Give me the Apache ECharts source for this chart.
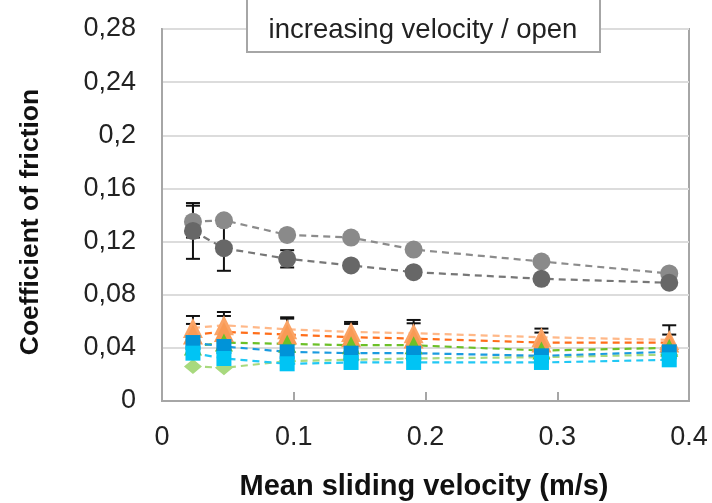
<!DOCTYPE html>
<html>
<head>
<meta charset="utf-8">
<script src="https://cdn.jsdelivr.net/npm/echarts@6/dist/echarts.min.js"></script>
<style>html,body{margin:0;padding:0;background:#fff}#c{width:712px;height:503px}</style>
</head>
<body>
<div id="c"></div>
<script>
// ---- data ----
const velocity = [0.0235, 0.047, 0.095, 0.1435, 0.191, 0.288, 0.385];
const grayLight = [0.135, 0.136, 0.125, 0.123, 0.114, 0.105, 0.096];
const grayDark = [0.128, 0.115, 0.107, 0.102, 0.097, 0.092, 0.089];
const orangeLight = [0.055, 0.057, 0.054, 0.052, 0.051, 0.048, 0.046];
const orangeDark = [0.050, 0.052, 0.050, 0.048, 0.047, 0.044, 0.044];
const greenTri = [0.041, 0.044, 0.043, 0.042, 0.042, 0.038, 0.040];
const greenDiamond = [0.026, 0.025, 0.030, 0.031, 0.032, 0.033, 0.035];
const blueSq = [0.044, 0.041, 0.037, 0.036, 0.036, 0.034, 0.037];
const cyanSq = [0.036, 0.032, 0.028, 0.029, 0.029, 0.029, 0.031];

const grayLightErr = [0.012, 0, 0, 0, 0, 0, 0];
const grayDarkErr = [0.021, 0.017, 0.0065, 0.002, 0, 0, 0];
const orangeLightErr = [0.009, 0.010, 0.009, 0.0075, 0.010, 0.0065, 0.011];
const orangeDarkErr = [0.008, 0.012, 0.012, 0.010, 0.0115, 0.0075, 0.006];

const yTicks = [0, 0.04, 0.08, 0.12, 0.16, 0.2, 0.24, 0.28];
const xTicks = [0, 0.1, 0.2, 0.3, 0.4];
const titleText = 'increasing velocity / open';
const xTitle = 'Mean sliding velocity (m/s)';
const yTitle = 'Coefficient of friction';

// ---- build ----
function pts(ys) { return velocity.map((x, i) => [x, ys[i]]); }
const errData = [];
[[grayLight, grayLightErr], [grayDark, grayDarkErr], [orangeLight, orangeLightErr], [orangeDark, orangeDarkErr]].forEach(([v, e]) => {
  v.forEach((y, i) => { if (e[i] > 0) errData.push([velocity[i], y - e[i], y + e[i]]); });
});

function lineSeries(name, ys, color, lineColor, symbol, size, z) {
  return {
    name, type: 'line', data: pts(ys), symbol, symbolSize: size, z,
    itemStyle: { color, opacity: 1 },
    lineStyle: { color: lineColor, width: 2.2, type: [7, 5] },
    emphasis: { disabled: true }, animation: false
  };
}

const axisGray = '#a6a6a6';
const chart = echarts.init(document.getElementById('c'));
chart.setOption({
  animation: false,
  grid: { left: 162, right: 23, top: 29, bottom: 102, show: true, borderColor: axisGray, borderWidth: 2, backgroundColor: 'transparent' },
  xAxis: {
    type: 'value', min: 0, max: 0.4, interval: 0.1,
    axisLine: { show: true, lineStyle: { color: axisGray, width: 2 } },
    axisTick: { show: true, inside: true, length: 9, lineStyle: { color: axisGray, width: 2 } },
    splitLine: { show: false },
    axisLabel: { margin: 23, fontFamily: 'Liberation Sans', fontSize: 27, color: '#222',
      formatter: v => xTicks.includes(Math.round(v * 10) / 10) ? String(Math.round(v * 10) / 10) : '' }
  },
  yAxis: {
    type: 'value', min: 0, max: 0.28, interval: 0.04,
    axisLine: { show: true, lineStyle: { color: axisGray, width: 2 } },
    axisTick: { show: false },
    splitLine: { show: true, lineStyle: { color: '#dcdcdc', width: 2 } },
    axisLabel: { margin: 26, fontFamily: 'Liberation Sans', fontSize: 27, color: '#222',
      formatter: v => {
        const t = yTicks.find(k => Math.abs(k - v) < 1e-9);
        return t === undefined ? '' : String(Math.round(t * 100) / 100).replace('.', ',');
      } }
  },
  graphic: [
    { type: 'rect', shape: { x: 247, y: -4, width: 353, height: 56 }, style: { fill: '#fff', stroke: axisGray, lineWidth: 2 }, z: 100 },
    { type: 'text', x: 423, y: 30, style: { text: titleText, fontFamily: 'Liberation Sans', fontSize: 27.5, fill: '#222', align: 'center', verticalAlign: 'middle' }, z: 101 },
    { type: 'text', x: 424, y: 487, style: { text: xTitle, fontFamily: 'Liberation Sans', fontWeight: 'bold', fontSize: 29, fill: '#111', align: 'center', verticalAlign: 'middle' }, z: 101 },
    { type: 'text', x: 31, y: 222, rotation: Math.PI / 2, style: { text: yTitle, fontFamily: 'Liberation Sans', fontWeight: 'bold', fontSize: 26.5, fill: '#111', align: 'center', verticalAlign: 'middle' }, z: 101 }
  ],
  series: [
    {
      type: 'custom', z: 1, data: errData, animation: false,
      renderItem: (params, api) => {
        const x = api.value(0);
        const lo = api.coord([x, api.value(1)]);
        const hi = api.coord([x, api.value(2)]);
        const w = 7;
        const st = { stroke: '#111', lineWidth: 2 };
        return { type: 'group', children: [
          { type: 'line', shape: { x1: lo[0], y1: lo[1], x2: hi[0], y2: hi[1] }, style: st },
          { type: 'line', shape: { x1: lo[0] - w, y1: lo[1], x2: lo[0] + w, y2: lo[1] }, style: st },
          { type: 'line', shape: { x1: hi[0] - w, y1: hi[1], x2: hi[0] + w, y2: hi[1] }, style: st }
        ] };
      }
    },
    lineSeries('grayLight', grayLight, '#8a8a8a', '#8c8c8c', 'circle', 18, 3),
    lineSeries('grayDark', grayDark, '#676767', '#777777', 'circle', 18, 3),
    lineSeries('orangeLight', orangeLight, '#FBA466', '#FFB888', 'triangle', 20, 3),
    lineSeries('orangeDark', orangeDark, '#F99A55', '#FF6E1A', 'triangle', 20, 3),
    lineSeries('greenDiamond', greenDiamond, '#A8D97E', '#A8D97E', 'diamond', [18, 15], 3),
    lineSeries('greenTri', greenTri, '#6CC028', '#6CC028', 'triangle', 18, 3),
    lineSeries('blueSq', blueSq, '#0093D8', '#1A9BE0', 'rect', 15, 3),
    lineSeries('cyanSq', cyanSq, '#00C4F4', '#22C8F4', 'rect', 15, 3)
  ]
});
</script>
</body>
</html>
